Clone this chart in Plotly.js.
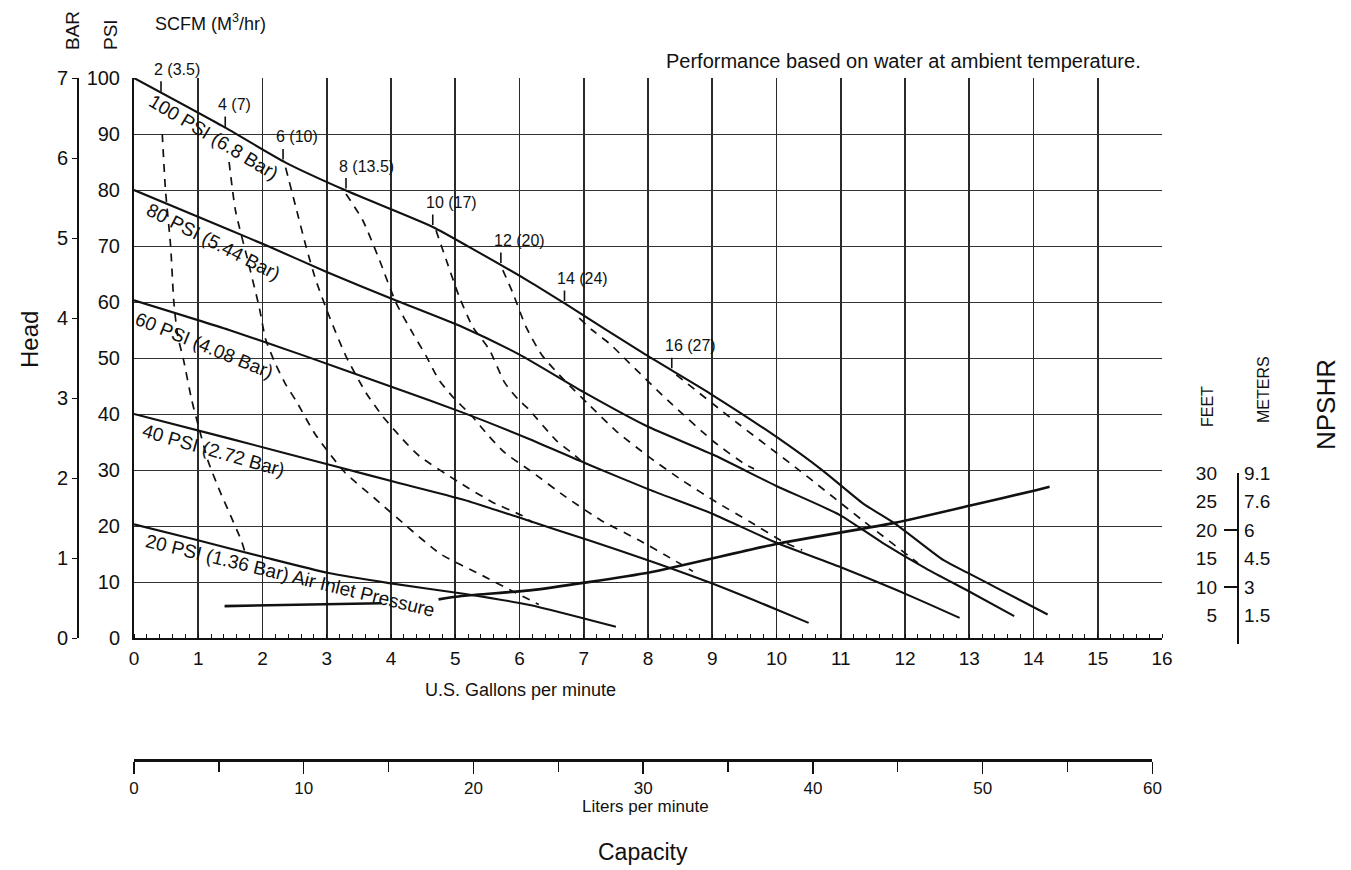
<!DOCTYPE html>
<html><head><meta charset="utf-8">
<script src="https://cdn.plot.ly/plotly-3.0.1.min.js"></script>
<style>html,body{margin:0;padding:0;background:#fff}#chart{width:1351px;height:870px}</style>
</head><body><div id="chart"></div>
<script>
// ---------- pressure curves (US gpm vs head in PSI) ----------
const gpm100 = [0,1.38,2.36,3.3,4.65,5.22,6.16,6.71,7.92,8.96,10,10.72,11.35,11.86,12.6,13,13.5,14.22];
const psi100 = [100,91.4,84.9,79.9,73.4,69.8,63.6,59.7,50.9,43.7,35.9,29.9,24,20.3,13.9,11.5,8.5,4.2];
const gpm80 = [0,1.48,2.1,2.99,4.03,5.12,6.0,7,7.97,9,9.99,10.98,11.65,12.33,13,13.7];
const psi80 = [80,72.9,69.9,65.4,60.5,55.5,50.6,43.9,37.9,32.8,27.2,22.0,17.0,12.4,8.3,3.9];
const gpm60 = [0,1.48,2.7,4.05,5.13,6.16,7.09,8.02,9,10,11.03,11.86,12.38,12.85];
const psi60 = [60.3,55.0,50.2,44.7,40.2,35.5,30.9,26.5,22.2,17.0,12.5,8.6,6,3.6];
const gpm40 = [0,1.49,3.25,4.05,5.13,6.1,7.09,8.02,8.96,10,10.5];
const psi40 = [40,35.6,30.3,27.9,24.7,21.1,17.4,13.8,9.9,5.1,2.7];
const gpm20 = [0,0.98,2.0,3.03,3.97,5.13,6.16,7.5];
const psi20 = [20.3,17.5,14.5,11.6,9.8,7.9,5.9,2.0];

// ---------- NPSHR curve (feet) ----------
const gpmNpshr = [1.41,3.85,4.3,4.74,5.1,6.16,8.02,10,11.86,13,14.04,14.25];
const ftNpshr  = [5.7,6.2,null,6.9,7.5,8.5,11.7,16.8,20.6,23.6,26.4,27];

// ---------- air consumption curves (SCFM) ----------
const gpmAir2 = [0.44,0.49,0.57,0.62,0.68,0.77,0.9,1.0,1.15,1.33,1.49,1.67,1.72];
const psiAir2 = [90,80,70,60,54,49.7,42.4,38,31.7,26.4,22.2,17.4,15.6];
const gpmAir4 = [1.48,1.58,1.77,1.95,2.05,2.2,2.36,2.52,2.82,3.28,3.74,4.2,4.77,5.38,5.9,6.3];
const psiAir4 = [85,76.3,67.5,59,53.3,49,45.3,42.4,36.4,29.6,25,20.4,15,11.4,8.3,6.0];
const gpmAir6 = [2.36,2.52,2.68,2.83,3.04,3.3,3.61,3.87,4.18,4.44,5.06,5.57,6.03,6.2];
const psiAir6 = [84,76.9,69.8,63.9,57.4,50.3,43.8,39.6,35.5,32.5,27.8,24.3,21.9,20.6];
const gpmAir8 = [3.3,3.56,3.82,4.08,4.34,4.55,4.74,4.95,5.26,5.52,5.77,6.2,6.72,7.27,7.87,8.39,8.7];
const psiAir8 = [79.3,74.6,67.5,59.8,54.4,50.3,46.2,43.2,39.6,36.1,33.1,29.6,25.2,21,17.4,14,11.9];
const gpmAir10 = [4.7,4.86,5.06,5.27,5.53,5.77,5.98,6.13,6.57,6.83,6.95];
const psiAir10 = [72.8,67.5,61,55.6,51.5,45.6,42.6,41,35.3,32.9,31.7];
const gpmAir12 = [5.74,5.9,6.1,6.35,6.7,7.06,7.5,8.02,8.54,9.06,9.58,10.12,10.4];
const psiAir12 = [65.7,61.5,55.6,50.5,46,41.9,37,32.3,28.1,24.3,20.8,17.1,15.7];
const gpmAir14 = [6.93,7.13,7.4,7.63,8.33,9.03,9.5,9.65];
const psiAir14 = [57.1,55,52.6,50,42.2,35,31.1,30.2];
const gpmAir16 = [8.44,9.4,10.36,11.34,12.12,12.2];
const psiAir16 = [47,38.3,29.9,21,14.1,13.4];

// air curve tick marks on the 100 PSI line
const airTickGpm  = [0.42,1.42,2.32,3.3,4.65,5.71,6.7,8.37];
const airTickPsi  = [97.2,90.9,85.1,79.9,73.4,66.6,59.8,47.8];
const airTickText = ['2 (3.5)','4 (7)','6 (10)','8 (13.5)','10 (17)','12 (20)','14 (24)','16 (27)'];

// ---------- axis tick labels ----------
const gpmTicks = [0,1,2,3,4,5,6,7,8,9,10,11,12,13,14,15,16];
const psiTicks = [0,10,20,30,40,50,60,70,80,90,100];
const barTicks = [0,1,2,3,4,5,6,7];
const literTicks = [0,10,20,30,40,50,60];
const feetTicks = [30,25,20,15,10,5];
const meterText = ['9.1','7.6','6','4.5','3','1.5'];
const bracketTicks = [0,10,20,30];
const GAL_TO_L = 3.78541;

const FONT = 'Liberation Sans, Arial, Helvetica, sans-serif';
const NARROW = 'Liberation Sans Narrow, Liberation Sans, Arial, sans-serif';
const W = 1351, H = 870;
const px = v => v / W;
const py = v => 1 - v / H;
const xDom = [px(134), px(1162)];
const yDom = [py(638), py(78)];

const solid = (x, y) => ({x, y, type:'scatter', mode:'lines', line:{color:'#111', width:2.1, shape:'spline', smoothing:0.6}, hoverinfo:'skip', showlegend:false});
const dashed = (x, y) => ({x, y, type:'scatter', mode:'lines', line:{color:'#111', width:1.7, dash:'8px,7px', shape:'spline', smoothing:0.6}, hoverinfo:'skip', showlegend:false});

const traces = [
  solid(gpm100, psi100), solid(gpm80, psi80), solid(gpm60, psi60), solid(gpm40, psi40), solid(gpm20, psi20),
  dashed(gpmAir2, psiAir2), dashed(gpmAir4, psiAir4), dashed(gpmAir6, psiAir6), dashed(gpmAir8, psiAir8),
  dashed(gpmAir10, psiAir10), dashed(gpmAir12, psiAir12), dashed(gpmAir14, psiAir14), dashed(gpmAir16, psiAir16),
  {x:gpmNpshr, y:ftNpshr, type:'scatter', mode:'lines', connectgaps:false, line:{color:'#111', width:2.6, shape:'spline', smoothing:0.5}, hoverinfo:'skip', showlegend:false},
  // axis holders
  {x:[null], y:[null], xaxis:'x', yaxis:'y2', type:'scatter', mode:'lines', hoverinfo:'skip', showlegend:false},
  {x:[null], y:[null], xaxis:'x3', yaxis:'y4', type:'scatter', mode:'lines', hoverinfo:'skip', showlegend:false},
  {x:[null], y:[null], xaxis:'x3', yaxis:'y5', type:'scatter', mode:'lines', hoverinfo:'skip', showlegend:false},
  {x:[null], y:[null], xaxis:'x3', yaxis:'y6', type:'scatter', mode:'lines', hoverinfo:'skip', showlegend:false}
];

const npDom = [py(644), py(473)];
const litersEnd = 134 + (60 / GAL_TO_L) * (1028 / 16);

const annotations = [];
const addText = (text, x, y, size, opts) => annotations.push(Object.assign({
  text, x, y, xref:'paper', yref:'paper', xanchor:'center', yanchor:'middle', showarrow:false,
  font:{family:FONT, size, color:'#111'}
}, opts || {}));

addText('SCFM (M<sup>3</sup>/hr)', px(210), py(23), 18);
addText('BAR', px(72), py(31), 19, {textangle:-90});
addText('PSI', px(110), py(35), 19, {textangle:-90});
addText('Performance based on water at ambient temperature.', px(1143), py(61), 20, {xanchor:'right'});
addText('Head', px(30), py(340), 24, {textangle:-90});
addText('U.S. Gallons per minute', px(520), py(690), 18);
addText('Liters per minute', px(645), py(806), 17, {font:{family:NARROW, size:17, color:'#111'}});
addText('Capacity', px(643), py(852), 23);
addText('FEET', px(1207), py(407), 16, {textangle:-90});
addText('METERS', px(1263), py(390), 16, {textangle:-90});
addText('NPSHR', px(1326), py(405), 26, {textangle:-90});

// pressure curve labels (data coordinates)
const curveLabels = [
  ['100 PSI (6.8 Bar)', 1.245, 89.3, 31],
  ['80 PSI (5.44 Bar)', 1.23, 70.8, 27],
  ['60 PSI (4.08 Bar)', 1.1, 52.3, 22],
  ['40 PSI (2.72 Bar)', 1.245, 33.4, 16],
  ['20 PSI (1.36 Bar) Air Inlet Pressure', 2.43, 11.25, 13.7]
];
curveLabels.forEach(([t, x, y, a]) => annotations.push({text:t, x, y, xref:'x', yref:'y', xanchor:'center', yanchor:'middle', showarrow:false, textangle:a, font:{family:FONT, size:19, color:'#111'}}));

// air consumption tick marks + labels
airTickGpm.forEach((g, i) => {
  annotations.push({x:g, y:airTickPsi[i], xref:'x', yref:'y', text:' ', showarrow:true, arrowhead:0, arrowwidth:1.6, arrowcolor:'#111', ax:0, ay:-15, standoff:2, font:{size:2}});
  annotations.push({x:g, y:airTickPsi[i], xref:'x', yref:'y', text:airTickText[i], showarrow:false, xanchor:'left', yanchor:'bottom', xshift:-9, yshift:14, font:{family:FONT, size:16, color:'#111'}});
});

const layout = {
  width:W, height:H, margin:{l:0, r:0, t:0, b:0},
  paper_bgcolor:'#fff', plot_bgcolor:'rgba(0,0,0,0)',
  font:{family:FONT, color:'#111'},
  xaxis:{domain:xDom, range:[0,16], tickvals:gpmTicks, showgrid:true, gridcolor:'#2a2a2a', gridwidth:1.7,
    zeroline:false, showline:true, linecolor:'#111', linewidth:2, ticks:'', ticklabelstandoff:2,
    tickfont:{size:19, color:'#111'}, anchor:'y',
    minor:{dtick:0.2, ticks:'inside', ticklen:4, tickcolor:'#111', tickwidth:1, showgrid:false}},
  yaxis:{domain:yDom, range:[0,100], tickvals:psiTicks, showgrid:true, gridcolor:'#333', gridwidth:1,
    zeroline:false, showline:true, linecolor:'#111', linewidth:2, ticks:'', ticklabelstandoff:8,
    tickfont:{size:20, color:'#111'}, anchor:'x'},
  yaxis2:{overlaying:'y', anchor:'free', position:px(77), side:'left', range:[0,7], tickvals:barTicks,
    showgrid:false, zeroline:false, showline:true, linecolor:'#111', linewidth:1.5, ticks:'outside', ticklen:5,
    tickcolor:'#111', tickfont:{size:20, color:'#111'}},
  xaxis3:{domain:[xDom[0], px(litersEnd)], anchor:'free', position:py(760), range:[0,60], tickvals:literTicks,
    showgrid:false, zeroline:false, showline:true, linecolor:'#111', linewidth:3, ticks:'outside', ticklen:12,
    tickwidth:1.5, tickcolor:'#111', tickfont:{family:NARROW, size:17, color:'#111'},
    minor:{dtick:5, ticks:'outside', ticklen:10, tickwidth:1.3, tickcolor:'#111', showgrid:false}},
  yaxis4:{domain:npDom, range:[0,30], anchor:'free', position:px(1217), side:'left', tickvals:feetTicks,
    showgrid:false, zeroline:false, showline:false, ticks:'', tickfont:{size:19, color:'#111'}},
  yaxis5:{overlaying:'y4', anchor:'free', position:px(1237), side:'right', range:[0,30], tickvals:bracketTicks,
    showgrid:false, zeroline:false, showline:true, linecolor:'#111', linewidth:1.5, ticks:'inside', ticklen:13,
    tickwidth:1.3, tickcolor:'#111', showticklabels:false},
  yaxis6:{overlaying:'y4', anchor:'free', position:px(1243), side:'right', range:[0,30], tickvals:feetTicks,
    ticktext:meterText, showgrid:false, zeroline:false, showline:false, ticks:'', tickfont:{size:19, color:'#111'}},
  annotations
};

Plotly.newPlot('chart', traces, layout, {displayModeBar:false, staticPlot:true});
</script></body></html>
